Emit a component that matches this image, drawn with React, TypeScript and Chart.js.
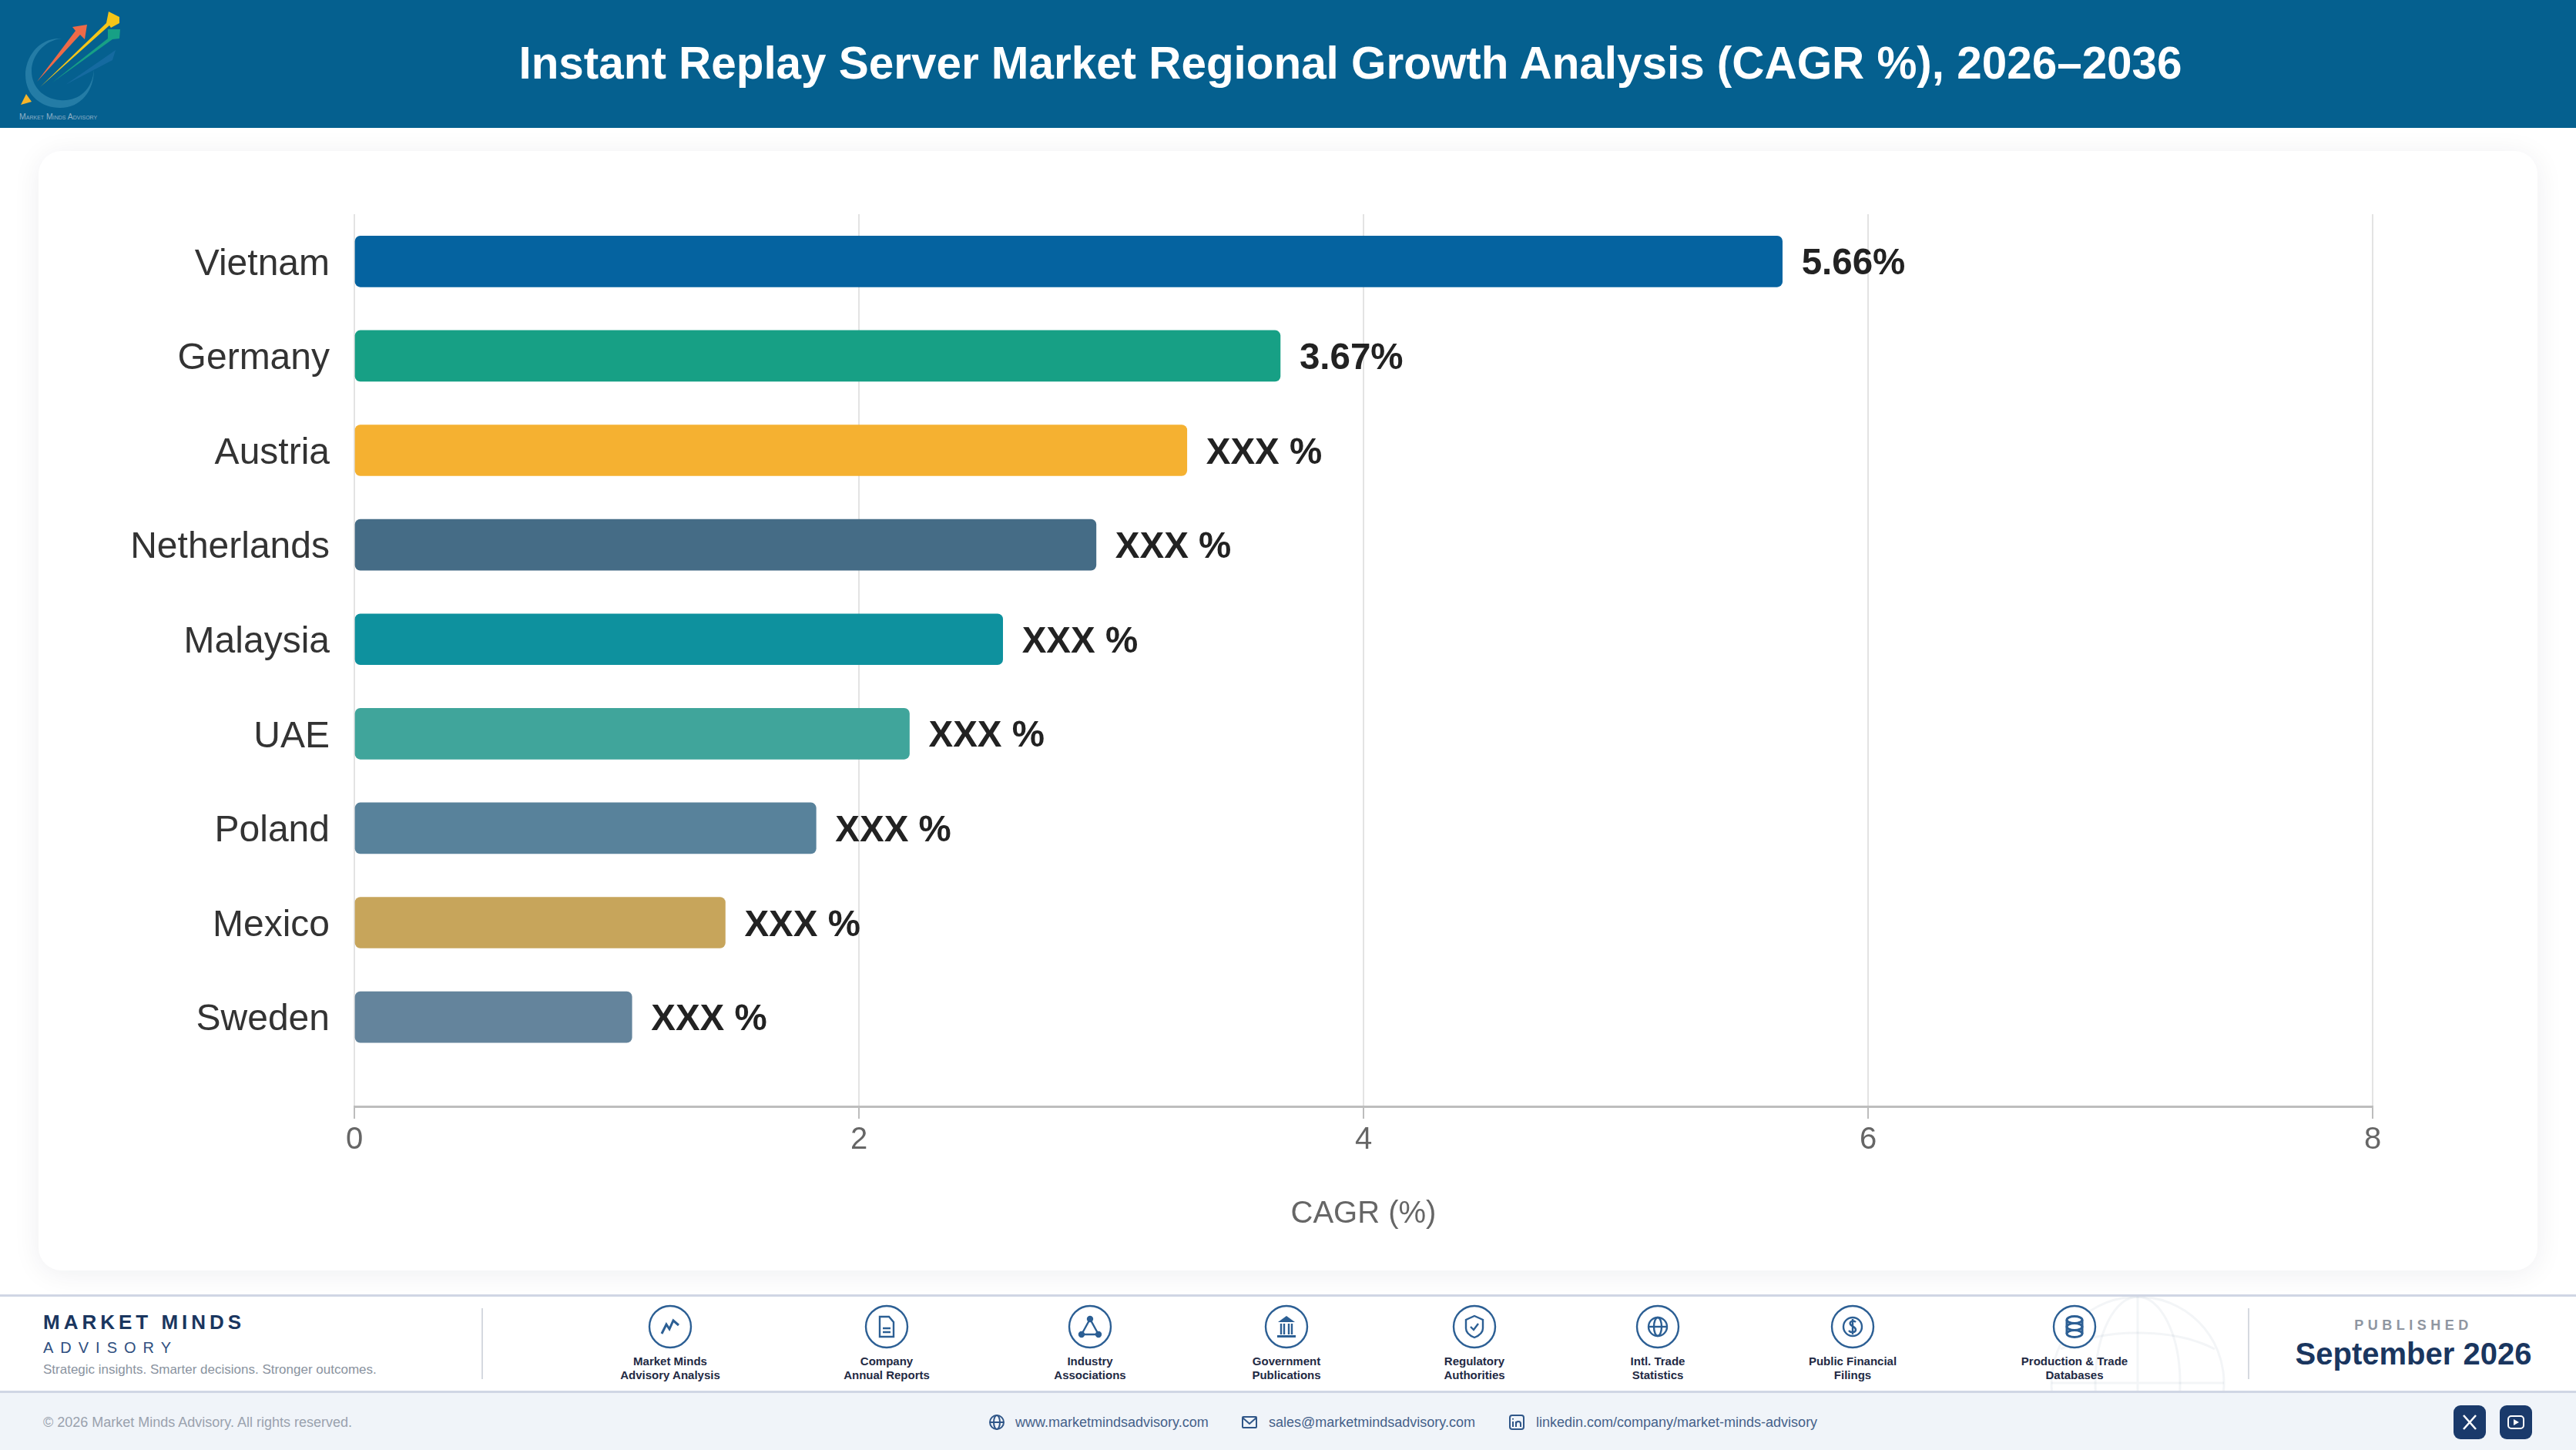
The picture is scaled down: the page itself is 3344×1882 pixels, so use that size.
import React, { useEffect, useRef } from 'react';
import { Chart, registerables } from 'chart.js';

Chart.register(...registerables);

const categories = ['Vietnam', 'Germany', 'Austria', 'Netherlands', 'Malaysia', 'UAE', 'Poland', 'Mexico', 'Sweden'];
const cagrValues = [5.66, 3.67, 3.3, 2.94, 2.57, 2.2, 1.83, 1.47, 1.1];
const valueLabels = ['5.66%', '3.67%', 'XXX %', 'XXX %', 'XXX %', 'XXX %', 'XXX %', 'XXX %', 'XXX %'];
const barColors = ['#0563A0', '#17A085', '#F5B131', '#456C86', '#0E919E', '#40A59B', '#58829B', '#C7A55B', '#64849C'];

const xMax = 8;
const xStep = 2;

const sources = [
  { cx: 870, lines: ['Market Minds', 'Advisory Analysis'], icon: 'chart' },
  { cx: 1151, lines: ['Company', 'Annual Reports'], icon: 'doc' },
  { cx: 1415, lines: ['Industry', 'Associations'], icon: 'network' },
  { cx: 1670, lines: ['Government', 'Publications'], icon: 'bank' },
  { cx: 1914, lines: ['Regulatory', 'Authorities'], icon: 'shield' },
  { cx: 2152, lines: ['Intl. Trade', 'Statistics'], icon: 'globe' },
  { cx: 2405, lines: ['Public Financial', 'Filings'], icon: 'coin' },
  { cx: 2693, lines: ['Production & Trade', 'Databases'], icon: 'db' },
];

const FONT = '"Liberation Sans", Arial, sans-serif';
const NAVY = '#1A365F';
const BLUE = '#2C5F94';

const valueLabelPlugin = {
  id: 'valueLabels',
  afterDatasetsDraw(chart: Chart) {
    const { ctx } = chart;
    const meta = chart.getDatasetMeta(0);
    ctx.save();
    ctx.font = `bold 47.5px ${FONT}`;
    ctx.fillStyle = '#222222';
    ctx.textAlign = 'left';
    ctx.textBaseline = 'middle';
    meta.data.forEach((bar: any, i: number) => {
      ctx.fillText(valueLabels[i], bar.x + 25, bar.y + 4);
    });
    ctx.restore();
  },
};

function BarChart() {
  const ref = useRef<HTMLCanvasElement | null>(null);

  useEffect(() => {
    if (!ref.current) return;
    const chart = new Chart(ref.current, {
      type: 'bar',
      data: {
        datasets: [
          {
            data: categories.map((_, i) => ({ x: cagrValues[i], y: i })) as any,
            backgroundColor: barColors,
            borderRadius: 7,
            borderSkipped: false,
            barThickness: 66,
          },
        ],
      },
      options: {
        indexAxis: 'y',
        responsive: false,
        animation: false,
        devicePixelRatio: 1,
        layout: { padding: { top: 82, right: 214, bottom: 49, left: 0 } },
        plugins: { legend: { display: false }, tooltip: { enabled: false } },
        scales: {
          x: {
            type: 'linear',
            min: 0,
            max: xMax,
            afterFit: (s: any) => {
              s.height = 164;
            },
            ticks: { stepSize: xStep, color: '#666666', padding: 4, font: { family: FONT, size: 40 } },
            grid: { color: '#E3E3E3', tickColor: '#BDBDBD', tickLength: 16, lineWidth: 2 },
            border: { color: '#BDBDBD', width: 3 },
            title: {
              display: true,
              text: 'CAGR (%)',
              color: '#666666',
              font: { family: FONT, size: 40 },
              padding: 0,
            },
          },
          y: {
            type: 'linear',
            reverse: true,
            offset: false,
            // axis runs on past the last bar, so the range is wider than the nine bands
            min: -0.5,
            max: 8.945,
            afterFit: (s: any) => {
              s.width = 410;
            },
            afterBuildTicks: (s: any) => {
              s.ticks = categories.map((_, i) => ({ value: i }));
            },
            ticks: {
              autoSkip: false,
              color: '#333333',
              padding: 24,
              labelOffset: 4,
              font: { family: FONT, size: 48 },
              callback: (v: any) => categories[v],
            },
            grid: { display: false },
            border: { display: false },
          },
        },
      },
      plugins: [valueLabelPlugin],
    } as any);
    return () => chart.destroy();
  }, []);

  return <canvas ref={ref} width={3244} height={1453} style={{ display: 'block', width: 3244, height: 1453 }} />;
}

function Glyph({ kind }: { kind: string }) {
  const s = { fill: 'none', stroke: BLUE, strokeWidth: 2.4 };
  switch (kind) {
    case 'chart':
      return <path d="M-11 9 L-5 -3 L-1 3 L4 -8 L11 -2" {...s} strokeWidth={3} />;
    case 'doc':
      return (
        <g {...s}>
          <path d="M-9 -13 H3 L9 -6 V13 H-9 Z" />
          <path d="M-5 2 H5 M-5 7 H5" />
        </g>
      );
    case 'network':
      return (
        <g {...s}>
          <path d="M0 -10 L-11 10 H11 Z" />
          <circle cx="0" cy="-10" r="3" fill={BLUE} />
          <circle cx="-11" cy="10" r="3" fill={BLUE} />
          <circle cx="11" cy="10" r="3" fill={BLUE} />
        </g>
      );
    case 'bank':
      return (
        <g>
          <path d="M-11 -6 L0 -14 L11 -6 Z" fill={BLUE} />
          <path d="M-7 -4 V10 M-3 -4 V10 M3 -4 V10 M7 -4 V10" {...s} />
          <rect x="-12" y="11" width="24" height="3" fill={BLUE} />
        </g>
      );
    case 'shield':
      return (
        <g {...s}>
          <path d="M0 -14 L11 -9 V2 C11 8 5 12 0 14 C-5 12 -11 8 -11 2 V-9 Z" />
          <path d="M-5 0 L-1 4 L5 -4" />
        </g>
      );
    case 'globe':
      return (
        <g {...s}>
          <circle r="12" />
          <ellipse rx="5" ry="12" />
          <path d="M-12 0 H12" />
        </g>
      );
    case 'coin':
      return (
        <g {...s}>
          <circle r="12" />
          <path d="M4 -6 C1 -9 -5 -7 -3 -3 C-1 0 4 0 4 4 C4 8 -3 8 -5 5 M0 -10 V10" />
        </g>
      );
    default:
      return (
        <g {...s} strokeWidth={3}>
          <ellipse cy="-9" rx="10" ry="4.5" />
          <ellipse cy="0" rx="10" ry="4.5" />
          <ellipse cy="9" rx="10" ry="4.5" />
          <path d="M-10 -9 V9 M10 -9 V9" />
        </g>
      );
  }
}

const abs = (left: number, top: number, extra: React.CSSProperties = {}): React.CSSProperties => ({
  position: 'absolute',
  left,
  top,
  whiteSpace: 'nowrap',
  ...extra,
});

function Logo() {
  return (
    <svg width="170" height="166" style={abs(0, 0)}>
      <path d="M80 50 C50 48 33 75 33 97 C33 125 55 140 78 140 C105 140 122 118 122 90 C120 118 100 132 78 130 C55 128 41 112 41 92 C41 72 58 52 80 50 Z" fill="#2F86AE" opacity="0.75" />
      <path d="M48 106 L98 40 L94 35 L113 32 L110 51 L104 45 Z" fill="#EE6A48" />
      <path d="M52 113 L138 30 L141 15 L155 22 L155 30 L144 36 L142 33 Z" fill="#F5C518" />
      <path d="M68 107 L140 50 L140 38 L156 38 L155 50 L146 51 Z" fill="#17A085" />
      <path d="M85 110 L140 72 L150 65 L146 78 Z" fill="#1D6FA6" opacity="0.7" />
      <path d="M27 136 L41 132 L34 122 Z" fill="#F7B529" />
      <text x="25" y="155" fontFamily={FONT} fontSize="10.5" fill="#8FB0C8" style={{ fontVariant: 'small-caps' }}>
        Market Minds Advisory
      </text>
    </svg>
  );
}

export default function App() {
  useEffect(() => {
    document.body.style.margin = '0';
  }, []);

  const contact = { fontSize: 18, color: '#45618A', lineHeight: '24px' };
  const icon = { fill: 'none', stroke: '#2F5688', strokeWidth: 2 };

  return (
    <div style={{ position: 'relative', width: 3344, height: 1882, overflow: 'hidden', background: '#FFFFFF', fontFamily: FONT }}>
      <div style={abs(0, 0, { width: 3344, height: 166, background: '#05608F' })} />
      <Logo />
      <div style={abs(1753, 81, { transform: 'translate(-50%,-50%)', color: '#FFFFFF', fontWeight: 700, fontSize: 58.4 })}>
        Instant Replay Server Market Regional Growth Analysis (CAGR %), 2026–2036
      </div>

      <div
        style={abs(50, 196, {
          width: 3244,
          height: 1453,
          borderRadius: 30,
          background: '#FFFFFF',
          boxShadow: '0 4px 36px rgba(20,30,50,0.07)',
        })}
      >
        <BarChart />
      </div>

      <div style={abs(0, 1680, { width: 3344, height: 128, background: '#FFFFFF', borderTop: '3px solid #D0D6E4', borderBottom: '3px solid #D0D6E4', boxSizing: 'border-box', overflow: 'hidden' })}>
        <svg width="3344" height="128" style={abs(0, 0)} fill="none" stroke="#1A365F" strokeOpacity="0.05" strokeWidth="3">
          <circle cx="2775" cy="112" r="112" />
          <ellipse cx="2775" cy="112" rx="55" ry="112" />
          <path d="M2663 112 H2887 M2775 0 V224" />
          <path d="M2675 68 C2730 40 2820 40 2875 68" />
        </svg>
      </div>
      <div style={abs(0, 1808, { width: 3344, height: 74, background: '#F0F4F9' })} />

      <div style={abs(56, 1700, { fontSize: 26, lineHeight: '32px', fontWeight: 700, color: NAVY, letterSpacing: 5 })}>MARKET MINDS</div>
      <div style={abs(56, 1737, { fontSize: 20, lineHeight: '24px', color: '#2F4F7F', letterSpacing: 9 })}>ADVISORY</div>
      <div style={abs(56, 1767, { fontSize: 17, lineHeight: '22px', color: '#8A93A0' })}>Strategic insights. Smarter decisions. Stronger outcomes.</div>
      <div style={abs(625, 1698, { width: 2, height: 92, background: '#D5D9E0' })} />
      <div style={abs(2918, 1698, { width: 2, height: 92, background: '#D5D9E0' })} />

      {sources.map((src) => (
        <React.Fragment key={src.cx}>
          <svg width="60" height="60" viewBox="-30 -30 60 60" style={abs(src.cx - 30, 1692)}>
            <circle r="27" fill="#FFFFFF" stroke={BLUE} strokeWidth="2.4" />
            <Glyph kind={src.icon} />
          </svg>
          {src.lines.map((line, i) => (
            <div
              key={line}
              style={abs(src.cx, 1758 + i * 18, {
                transform: 'translateX(-50%)',
                fontSize: 15,
                lineHeight: '18px',
                fontWeight: 700,
                color: '#1F2A44',
              })}
            >
              {line}
            </div>
          ))}
        </React.Fragment>
      ))}

      <div style={abs(3133, 1709, { transform: 'translateX(-50%)', fontSize: 18, lineHeight: '22px', fontWeight: 700, color: '#8F96A1', letterSpacing: 5.5 })}>PUBLISHED</div>
      <div style={abs(3133, 1733, { transform: 'translateX(-50%)', fontSize: 40, lineHeight: '48px', fontWeight: 700, color: NAVY })}>September 2026</div>

      <div style={abs(56, 1834, { fontSize: 18, lineHeight: '24px', color: '#9AA2AE' })}>© 2026 Market Minds Advisory. All rights reserved.</div>

      <svg width="22" height="22" viewBox="-11 -11 22 22" style={abs(1283, 1835)} {...icon}>
        <circle r="9" />
        <ellipse rx="4" ry="9" />
        <path d="M-9 0 H9" />
      </svg>
      <div style={abs(1318, 1834, contact)}>www.marketmindsadvisory.com</div>
      <svg width="22" height="22" viewBox="-11 -11 22 22" style={abs(1611, 1835)} {...icon}>
        <rect x="-9" y="-7" width="18" height="14" rx="1" />
        <path d="M-9 -6 L0 2 L9 -6" />
      </svg>
      <div style={abs(1647, 1834, contact)}>sales@marketmindsadvisory.com</div>
      <svg width="22" height="22" viewBox="-11 -11 22 22" style={abs(1958, 1835)} {...icon}>
        <rect x="-9" y="-9" width="18" height="18" rx="3" />
        <path d="M-5 -1 V6 M-5 -5 V-3.5 M-1 6 V-1 M-1 2 C-1 -2 5 -2 5 2 V6" />
      </svg>
      <div style={abs(1994, 1834, contact)}>linkedin.com/company/market-minds-advisory</div>

      <div style={abs(3185, 1824, { width: 42, height: 44, borderRadius: 9, background: '#1A3A6B' })}>
        <svg width="42" height="44" fill="none" stroke="#FFFFFF" strokeWidth="2.6">
          <path d="M13 13 L29 31 M29 13 L13 31" />
        </svg>
      </div>
      <div style={abs(3245, 1824, { width: 42, height: 44, borderRadius: 9, background: '#1A3A6B' })}>
        <svg width="42" height="44" fill="none" stroke="#FFFFFF" strokeWidth="2">
          <rect x="11" y="14" width="20" height="16" rx="4" />
          <path d="M18 18 L25 22 L18 26 Z" fill="#FFFFFF" stroke="none" />
        </svg>
      </div>
    </div>
  );
}
